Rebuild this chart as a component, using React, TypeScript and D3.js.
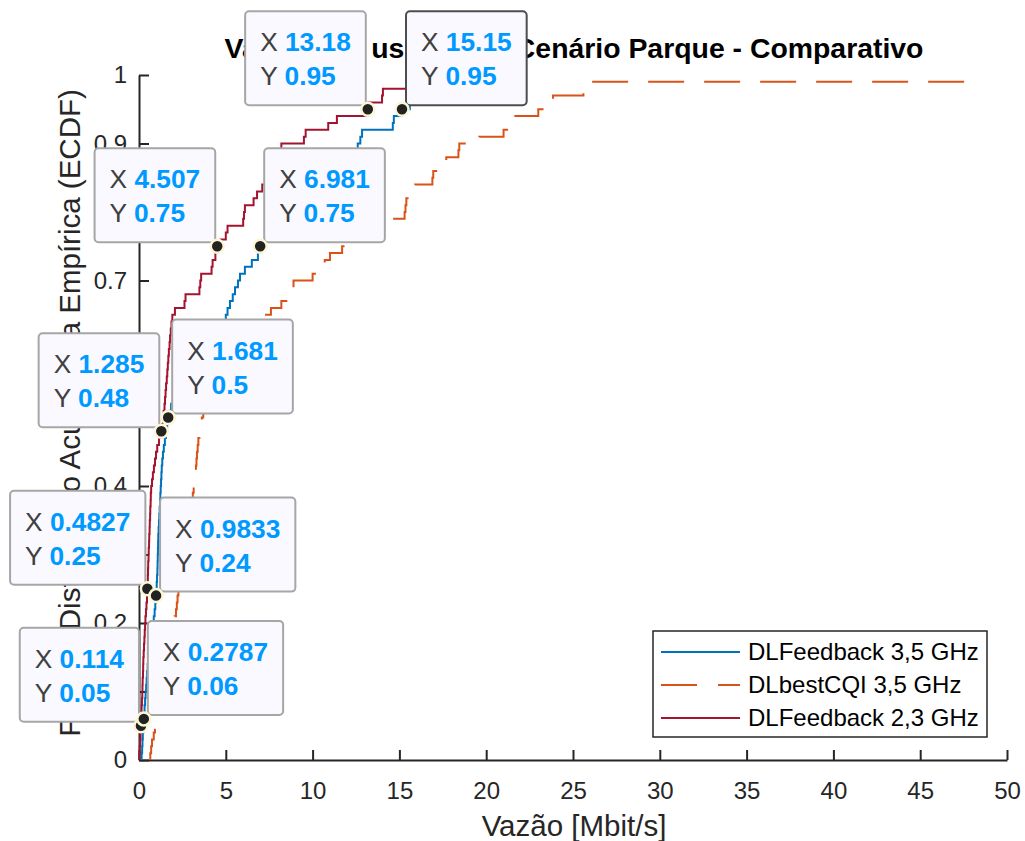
import React, { useEffect, useRef } from "react";
import * as d3 from "d3";

const width = 1025;
const height = 841;
const font = "'Liberation Sans', Arial, Helvetica, sans-serif";

// series names / colours (MATLAB default palette)
const seriesNames = ["DLFeedback 3,5 GHz", "DLbestCQI 3,5 GHz", "DLFeedback 2,3 GHz"];
const seriesColors = ["#0072BD", "#D95319", "#A2142F"];
const seriesDashed = [false, true, false];

const feedback35 = [
  0.15, 0.18, 0.2, 0.22, 0.25, 0.2787, 0.3, 0.32, 0.35, 0.38,
  0.41, 0.44, 0.47, 0.5, 0.54, 0.58, 0.62, 0.67, 0.74, 0.8,
  0.85, 0.9, 0.94, 0.9833, 1.0, 1.02, 1.04, 1.06, 1.07, 1.08,
  1.09, 1.1, 1.11, 1.13, 1.15, 1.17, 1.19, 1.21, 1.23, 1.25,
  1.27, 1.29, 1.31, 1.34, 1.38, 1.43, 1.49, 1.55, 1.62, 1.681,
  1.75, 1.85, 1.95, 2.05, 2.2, 2.35, 2.5, 2.7, 2.9, 3.15,
  3.4, 3.7, 4.1, 4.6, 5.0, 5.1, 5.24, 5.4, 5.53, 5.7,
  5.82, 6.1, 6.5, 6.85, 6.981, 7.3, 7.7, 8.0, 8.4, 8.7,
  9.0, 9.4, 9.8, 10.2, 10.6, 11.0, 11.5, 12.0, 12.5, 12.6,
  12.75, 12.85, 14.62, 14.68, 15.15, 15.6, 16.3, 17.2, 18.4, 20.5,
];
const bestCqi35 = [
  0.65, 0.7, 0.75, 0.85, 0.92, 1.0, 1.05, 1.1, 1.15, 1.2,
  1.28, 1.35, 1.42, 1.5, 1.58, 1.65, 1.72, 1.8, 1.88, 1.95,
  2.05, 2.13, 2.18, 2.22, 2.27, 2.32, 2.37, 2.42, 2.47, 2.52,
  2.57, 2.62, 2.67, 2.72, 2.78, 2.84, 2.9, 2.96, 3.1, 3.15,
  3.2, 3.24, 3.28, 3.31, 3.34, 3.38, 3.42, 3.48, 3.55, 3.62,
  3.7, 3.85, 4.0, 4.2, 4.4, 4.6, 4.85, 5.1, 5.4, 5.7,
  6.0, 6.3, 6.6, 6.9, 7.25, 7.6, 8.2, 8.6, 8.8, 8.9,
  10.0, 10.5, 10.7, 11.0, 11.7, 12.3, 13.0, 13.8, 14.6, 15.3,
  15.35, 15.4, 15.8, 15.9, 16.9, 16.95, 17.6, 17.7, 18.4, 18.45,
  19.6, 21.0, 21.4, 21.5, 23.0, 23.8, 23.85, 25.6, 25.9, 48.2,
];
const feedback23 = [
  0.02, 0.04, 0.06, 0.09, 0.114, 0.13, 0.14, 0.15, 0.17, 0.19,
  0.2, 0.21, 0.23, 0.24, 0.25, 0.27, 0.29, 0.31, 0.33, 0.35,
  0.37, 0.4, 0.43, 0.46, 0.4827, 0.5, 0.51, 0.52, 0.53, 0.55,
  0.56, 0.58, 0.59, 0.61, 0.62, 0.64, 0.65, 0.67, 0.68, 0.7,
  0.75, 0.8, 0.86, 0.92, 0.98, 1.05, 1.15, 1.285, 1.33, 1.38,
  1.42, 1.47, 1.5, 1.53, 1.56, 1.6, 1.63, 1.66, 1.69, 1.72,
  1.76, 1.79, 1.83, 1.87, 1.92, 2.07, 2.62, 2.68, 3.48, 3.53,
  3.58, 4.18, 4.24, 4.4, 4.507, 4.7, 5.0, 5.1, 6.0, 6.05,
  6.1, 6.6, 6.8, 7.1, 7.4, 7.6, 7.8, 8.0, 8.1, 8.2,
  9.5, 9.6, 10.9, 11.4, 13.18, 13.2, 14.0, 14.05, 17.2, 20.5,
];
const seriesData = [feedback35, bestCqi35, feedback23];

const xTicks = [0, 5, 10, 15, 20, 25, 30, 35, 40, 45, 50];
const yTicks = [0, 0.1, 0.2, 0.3, 0.4, 0.5, 0.6, 0.7, 0.8, 0.9, 1];
const yTickLabels = ["0", "0.1", "0.2", "0.3", "0.4", "0.5", "0.6", "0.7", "0.8", "0.9", "1"];

// data tips: value pairs + which series they sit on
const tipX = [0.114, 0.2787, 0.4827, 0.9833, 1.285, 1.681, 4.507, 6.981, 13.18, 15.15];
const tipY = [0.05, 0.06, 0.25, 0.24, 0.48, 0.5, 0.75, 0.75, 0.95, 0.95];
const tipSeries = [2, 0, 2, 0, 2, 0, 2, 0, 2, 0];

const App = () => {
  const svgRef = useRef<SVGSVGElement>(null);

  useEffect(() => {
    const svg = d3.select(svgRef.current);
    svg.selectAll("*").remove();

    const x = d3.scaleLinear().domain([0, 50]).range([139, 1007]);
    const y = d3.scaleLinear().domain([0, 1]).range([760, 75]);
    const axisColor = "#262626";

    // axes (MATLAB style: inward ticks, no box)
    const xAxis = svg
      .append("g")
      .attr("transform", "translate(0,760)")
      .call(
        d3.axisBottom(x).tickValues(xTicks).tickSizeInner(-10).tickSizeOuter(0).tickPadding(22)
          .tickFormat((d) => String(d))
      );
    const yAxis = svg
      .append("g")
      .attr("transform", "translate(139,0)")
      .call(
        d3.axisLeft(y).tickValues(yTicks).tickSizeInner(-10).tickSizeOuter(0).tickPadding(12)
          .tickFormat((d, i) => yTickLabels[i])
      );
    [xAxis, yAxis].forEach((a) => {
      a.attr("font-size", 24).attr("font-family", font);
      a.selectAll("text").attr("fill", axisColor);
      a.selectAll("line,path").attr("stroke", axisColor).attr("stroke-width", 2);
    });

    // labels + title
    svg.append("text")
      .attr("x", 574).attr("y", 836)
      .attr("text-anchor", "middle")
      .attr("font-family", font).attr("font-size", 29.5).attr("fill", axisColor)
      .text("Vazão [Mbit/s]");
    svg.append("text")
      .attr("transform", "translate(80,413) rotate(-90)")
      .attr("text-anchor", "middle")
      .attr("font-family", font).attr("font-size", 29.5).attr("fill", axisColor)
      .text("Função Distribuição Acumulada Empírica (ECDF)");
    svg.append("text")
      .attr("x", 574).attr("y", 58)
      .attr("text-anchor", "middle")
      .attr("font-family", font).attr("font-size", 28.4).attr("font-weight", "bold").attr("fill", "#000")
      .text("Vazão dos usuários - Cenário Parque - Comparativo");

    // ECDF stairs
    const line = d3
      .line<[number, number]>()
      .x((d) => x(d[0]))
      .y((d) => y(d[1]))
      .curve(d3.curveStepAfter);

    seriesData.forEach((vals, s) => {
      const n = vals.length;
      const pts: [number, number][] = [[vals[0], 0], ...vals.map((v, i) => [v, (i + 1) / n] as [number, number])];
      svg.append("path")
        .attr("d", line(pts))
        .attr("fill", "none")
        .attr("stroke", seriesColors[s])
        .attr("stroke-width", 2)
        .attr("stroke-dasharray", seriesDashed[s] ? "36,20" : null);
    });

    // legend
    const lg = svg.append("g").attr("font-family", font);
    lg.append("rect")
      .attr("x", 653).attr("y", 631).attr("width", 334).attr("height", 106)
      .attr("fill", "#fff").attr("stroke", axisColor).attr("stroke-width", 1.5);
    seriesNames.forEach((name, i) => {
      const ly = 652 + i * 33;
      lg.append("line")
        .attr("x1", 661).attr("x2", 740).attr("y1", ly).attr("y2", ly)
        .attr("stroke", seriesColors[i]).attr("stroke-width", 2)
        .attr("stroke-dasharray", seriesDashed[i] ? "36,21" : null);
      lg.append("text")
        .attr("x", 748).attr("y", ly).attr("dy", "0.35em")
        .attr("font-size", 24).attr("fill", "#000")
        .text(name);
    });

    // data tips
    tipX.forEach((tx, i) => {
      const mx = x(tx);
      const my = y(tipY[i]);
      const g = svg.append("g").attr("font-family", font).attr("font-size", 26.3);
      const rect = g.append("rect");
      const t1 = g.append("text");
      t1.append("tspan").attr("fill", "#404040").text("X ");
      t1.append("tspan").attr("fill", "#0099ff").attr("font-weight", "bold").text(String(tx));
      const t2 = g.append("text");
      t2.append("tspan").attr("fill", "#404040").text("Y ");
      t2.append("tspan").attr("fill", "#0099ff").attr("font-weight", "bold").text(String(tipY[i]));

      const w = Math.max(
        (t1.node() as SVGTextElement).getComputedTextLength(),
        (t2.node() as SVGTextElement).getComputedTextLength()
      );
      const bw = w + 30;
      const bh = 94;
      const left = tipSeries[i] === 2 ? mx - 2 - bw : mx + 4;
      const top = my - 4 - bh;
      rect
        .attr("x", left).attr("y", top).attr("width", bw).attr("height", bh)
        .attr("rx", 4)
        .attr("fill", "#f9f9ff")
        .attr("stroke", i === tipX.length - 1 ? "#4d4d4d" : "#a6a6a6")
        .attr("stroke-width", 2);
      t1.attr("x", left + 15).attr("y", top + 40);
      t2.attr("x", left + 15).attr("y", top + 74);
    });

    tipX.forEach((tx, i) => {
      svg.append("circle")
        .attr("cx", x(tx)).attr("cy", y(tipY[i])).attr("r", 6.5)
        .attr("fill", "#222")
        .attr("stroke", "#fbf7d5")
        .attr("stroke-width", 2.5);
    });
  }, []);

  return (
    <div style={{ position: "absolute", left: 0, top: 0, background: "#fff" }}>
      <svg ref={svgRef} width={width} height={height} />
    </div>
  );
};

export default App;
